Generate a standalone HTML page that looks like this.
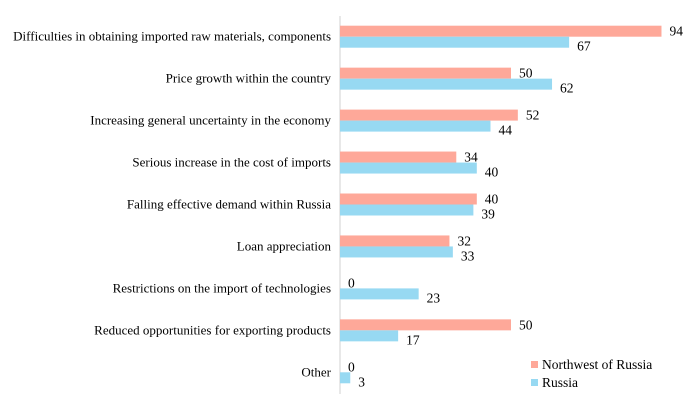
<!DOCTYPE html>
<html><head><meta charset="utf-8"><style>
body{margin:0;background:#fff}
svg{display:block}
svg text{font-family:"Liberation Serif","Times New Roman",serif}
</style></head><body>
<svg id="chart" width="700" height="411"></svg>
<script>
const categories=["Difficulties in obtaining imported raw materials, components","Price growth within the country","Increasing general uncertainty in the economy","Serious increase in the cost of imports","Falling effective demand within Russia","Loan appreciation","Restrictions on the import of technologies","Reduced opportunities for exporting products","Other"];
const northwest=[94,50,52,34,40,32,0,50,0];
const russia=[67,62,44,40,39,33,23,17,3];
const seriesNames=["Northwest of Russia","Russia"];
const NS="http://www.w3.org/2000/svg";
const svg=document.getElementById('chart');
const x0=340,scale=3.42,top0=25.7,step=41.95,bh=11;
const FF='"Liberation Serif", "Times New Roman", serif';
const xs=v=>x0+v*scale;
const yr=i=>top0+i*step;
function mk(t,a,txt){const e=document.createElementNS(NS,t);for(const k in a)e.setAttribute(k,a[k]);if(txt!=null)e.textContent=txt;svg.appendChild(e);return e;}
const ax=mk('line',{x1:x0,x2:x0,y1:16,y2:394,stroke:'#d9d9d9','stroke-width':1.2});


categories.forEach((c,i)=>{
  const y=yr(i);
  const l=mk('text',{x:331,y:y+15,'text-anchor':'end','font-size':13,'font-family':FF,fill:'#000'},c);
  
  
  const b1=mk('rect',{x:x0,y:y,width:Math.max(0,xs(northwest[i])-x0),height:bh,fill:'#fea899'});
  
  
  const b2=mk('rect',{x:x0,y:y+bh,width:xs(russia[i])-x0,height:bh,fill:'#97d9f2'});
  
  
  const t1=mk('text',{x:xs(northwest[i])+8,y:y+10,'font-size':13.5,'font-family':FF,fill:'#000'},northwest[i]);
  
  
  const t2=mk('text',{x:xs(russia[i])+8,y:y+bh+14,'font-size':13.5,'font-family':FF,fill:'#000'},russia[i]);
  
  
});
const cols=['#fea899','#97d9f2'];
seriesNames.forEach((n,i)=>{
  const y=361+i*18;
  const s=mk('rect',{x:531,y:y,width:7,height:7,fill:cols[i]});
  
  
  const t=mk('text',{x:542,y:y+8,'font-size':13.5,'font-family':FF,fill:'#000'},n);
  
  
});
</script>
</body></html>
